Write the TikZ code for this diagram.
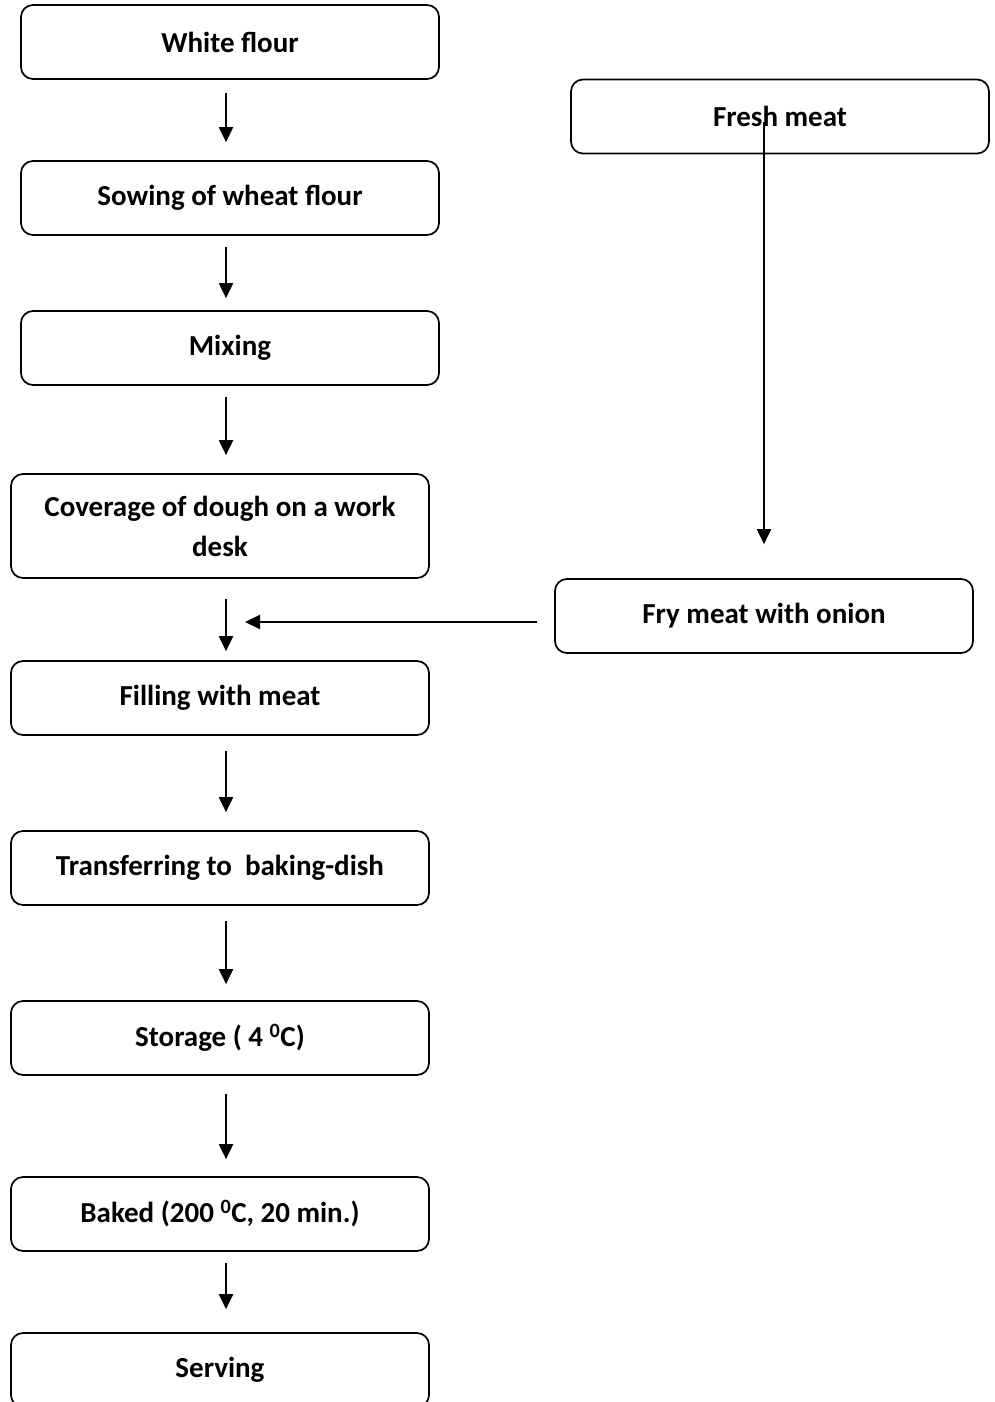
\documentclass[tikz,border=0pt]{standalone}
\usepackage{fontspec}
\setmainfont{Carlito}
\usetikzlibrary{arrows.meta,positioning,calc}

\tikzset{
  stage/.style={draw, line width=1.7pt, rounded corners=12pt, minimum width=418pt,
    minimum height=74pt, inner sep=0pt, align=center,
    font=\fontsize{29}{40}\selectfont\bfseries},
  arr/.style={line width=2pt, -{Triangle[length=15pt,width=14pt]}}
}

\begin{document}
\begin{tikzpicture}[x=1pt,y=-1pt]
\useasboundingbox (0,0) rectangle (995,1402);
\clip (0,0) rectangle (995,1402);
\coordinate (spine) at (226,0);
% main line
\node[stage] (flour)    at (230,42)   {White flour};
\node[stage] (sowing)   at (230,198)  {Sowing of wheat flour};
\node[stage] (mixing)   at (230,348)  {Mixing};
\node[stage, minimum height=104pt] (cover) at (220,526) {Coverage of dough on a work\\desk};
\node[stage] (filling)  at (220,698)  {Filling with meat};
\node[stage] (transfer) at (220,868)  {Transferring to~ baking-dish};
\node[stage] (storage)  at (220,1038) {Storage ( 4 \textsuperscript{0}C)};
\node[stage] (baked)    at (220,1214) {Baked (200 \textsuperscript{0}C, 20 min.)};
\node[stage] (serving)  at (220,1370) {Serving};
% meat line
\node[stage] (meat) at (780,116.5) {Fresh meat};
\node[stage] (fry)  at (764,616)   {Fry meat with onion};

\draw[arr] ([yshift=-13pt]flour.south -| spine) -- ([yshift=18pt]sowing.north -| spine);
\draw[arr] ([yshift=-11pt]sowing.south -| spine) -- ([yshift=12pt]mixing.north -| spine);
\draw[arr] ([yshift=-11pt]mixing.south -| spine) -- ([yshift=18pt]cover.north -| spine);
\draw[arr] ([yshift=-20pt]cover.south -| spine) -- ([yshift=9pt]filling.north -| spine);
\draw[arr] ([yshift=-15pt]filling.south -| spine) -- ([yshift=18pt]transfer.north -| spine);
\draw[arr] ([yshift=-15pt]transfer.south -| spine) -- ([yshift=16pt]storage.north -| spine);
\draw[arr] ([yshift=-18pt]storage.south -| spine) -- ([yshift=17pt]baked.north -| spine);
\draw[arr] ([yshift=-11pt]baked.south -| spine) -- ([yshift=23pt]serving.north -| spine);

\draw[arr] ([yshift=-6pt]meat.center -| fry.north) -- ([yshift=34pt]fry.north);
\draw[arr] ([xshift=-17pt,yshift=-6pt]fry.west) -- ([xshift=19pt,yshift=-6pt]spine |- fry.west);
\end{tikzpicture}
\end{document}
